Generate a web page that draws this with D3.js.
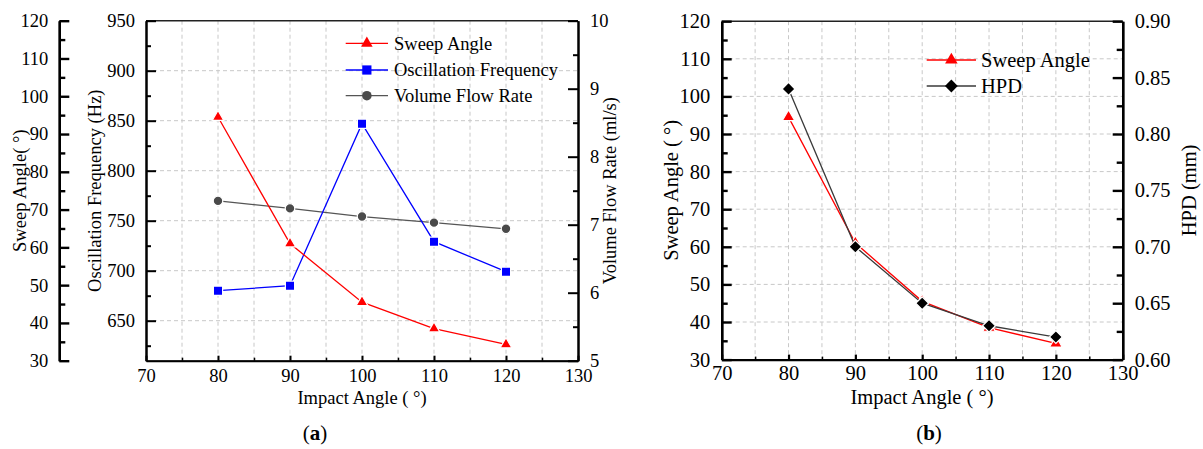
<!DOCTYPE html>
<html>
<head>
<meta charset="utf-8">
<script src="https://cdn.jsdelivr.net/npm/d3@7"></script>
<style>
  body { margin: 0; background: #fff; }
  svg { display: block; font-family: "Liberation Serif", "Times New Roman", serif; }
  .axis path, .axis line { stroke: #000; }
  .axis text { fill: #000; }
</style>
</head>
<body>
<svg id="chart" width="1203" height="449"></svg>
<script>
// ---------- data ----------
const impactAngles = [80, 90, 100, 110, 120];
const sweepAngle = [94.5, 61, 45.5, 38.5, 34.3];            // degrees
const oscFrequency = [680, 685, 847, 729, 699];              // Hz
const volumeFlowRate = [7.35, 7.24, 7.12, 7.03, 6.94];       // ml/s
const hpd = [0.84, 0.70, 0.65, 0.63, 0.62];                  // mm

const xTicks = [70, 80, 90, 100, 110, 120, 130];
const xMinorTicks = [75, 85, 95, 105, 115, 125];
const sweepTicks = [30, 40, 50, 60, 70, 80, 90, 100, 110, 120];
const sweepMinor = [35, 45, 55, 65, 75, 85, 95, 105, 115];
const freqTicks = [650, 700, 750, 800, 850, 900, 950];
const freqMinor = [625, 675, 725, 775, 825, 875, 925];
const flowTicks = [5, 6, 7, 8, 9, 10];
const flowMinor = [5.5, 6.5, 7.5, 8.5, 9.5];
const hpdTicks = [0.60, 0.65, 0.70, 0.75, 0.80, 0.85, 0.90];
const hpdMinor = [0.625, 0.675, 0.725, 0.775, 0.825, 0.875];

const svg = d3.select("#chart");
const RED = "#ff0000", BLUE = "#0000ff", GRAY = "#4a4a4a";

function drawAxis(g, axis, width, fs) {
  g.call(axis);
  g.attr("font-family", null).attr("font-size", fs || 10);
  g.select(".domain").attr("stroke-width", width);
  g.selectAll(".tick line").attr("stroke-width", width);
  return g;
}

function grid(g, x, y, xVals, yVals, x0, x1, y0, y1) {
  g.selectAll(".gv").data(xVals).join("line")
    .attr("x1", d => x(d)).attr("x2", d => x(d)).attr("y1", y0).attr("y2", y1)
    .attr("stroke", "#c8c8c8").attr("stroke-width", 1).attr("stroke-dasharray", "4,3");
  g.selectAll(".gh").data(yVals).join("line")
    .attr("y1", d => y(d)).attr("y2", d => y(d)).attr("x1", x0).attr("x2", x1)
    .attr("stroke", "#c8c8c8").attr("stroke-width", 1).attr("stroke-dasharray", "4,3");
}

function series(g, x, y, vals, color, lineColor, symbol, size, rotate) {
  const pts = impactAngles.map((a, i) => [x(a), y(vals[i])]);
  g.append("path").attr("d", d3.line()(pts)).attr("fill", "none")
    .attr("stroke", lineColor).attr("stroke-width", 1.3);
  g.selectAll(null).data(pts).join("path")
    .attr("d", d3.symbol().type(symbol).size(size)())
    .attr("transform", d => `translate(${d[0]},${d[1]}) rotate(${rotate || 0})`)
    .attr("fill", color).attr("stroke", "#fff").attr("stroke-width", 1.2);
}

function legendRow(g, x0, x1, y, textX, label, color, lineColor, symbol, size, rotate, fs) {
  g.append("line").attr("x1", x0).attr("x2", x1).attr("y1", y).attr("y2", y)
    .attr("stroke", lineColor).attr("stroke-width", 1.3);
  g.append("path").attr("d", d3.symbol().type(symbol).size(size)())
    .attr("transform", `translate(${(x0 + x1) / 2},${y}) rotate(${rotate || 0})`)
    .attr("fill", color);
  g.append("text").attr("x", textX).attr("y", y).attr("dy", "0.35em")
    .attr("font-size", fs).text(label);
}

// ================= Panel (a) =================
{
  const L = 146, R = 578, T = 20.7, B = 360.7, FS = 18.5;
  const x = d3.scaleLinear().domain([70, 130]).range([L, R]);
  const yF = d3.scaleLinear().domain([610, 950]).range([B, T]);
  const yS = d3.scaleLinear().domain([30, 120]).range([B, T]);
  const yV = d3.scaleLinear().domain([5, 10]).range([B, T]);
  const g = svg.append("g");

  grid(g, x, yF, [75, 80, 85, 90, 95, 100, 105, 110, 115, 120, 125], [650, 700, 750, 800, 850, 900], L, R, T, B);

  g.append("line").attr("x1", L).attr("x2", R).attr("y1", T).attr("y2", T)
    .attr("stroke", "#222").attr("stroke-width", 1.6);

  const gx = g.append("g").attr("class", "axis").attr("transform", `translate(0,${B})`);
  drawAxis(gx, d3.axisBottom(x).tickValues(xTicks).tickSize(-5).tickSizeOuter(0).tickPadding(8).tickFormat(d3.format("d")), 2, FS);
  const gxm = g.append("g").attr("class", "axis").attr("transform", `translate(0,${B})`);
  drawAxis(gxm, d3.axisBottom(x).tickValues(xMinorTicks).tickSize(-3).tickSizeOuter(0).tickFormat(""), 1.5);

  const gf = g.append("g").attr("class", "axis").attr("transform", `translate(${L},0)`);
  drawAxis(gf, d3.axisLeft(yF).tickValues(freqTicks).tickSize(-10).tickSizeOuter(0).tickPadding(11).tickFormat(d3.format("d")), 2, FS);
  const gfm = g.append("g").attr("class", "axis").attr("transform", `translate(${L},0)`);
  drawAxis(gfm, d3.axisLeft(yF).tickValues(freqMinor).tickSize(-5).tickSizeOuter(0).tickFormat(""), 2);

  const SX = 59.3;
  const gs = g.append("g").attr("class", "axis").attr("transform", `translate(${SX},0)`);
  drawAxis(gs, d3.axisLeft(yS).tickValues(sweepTicks).tickSize(-10).tickSizeOuter(0).tickPadding(11).tickFormat(d3.format("d")), 2.4, FS);
  const gsm = g.append("g").attr("class", "axis").attr("transform", `translate(${SX},0)`);
  drawAxis(gsm, d3.axisLeft(yS).tickValues(sweepMinor).tickSize(-6).tickSizeOuter(0).tickFormat(""), 2.4);

  const gv = g.append("g").attr("class", "axis").attr("transform", `translate(${R},0)`);
  drawAxis(gv, d3.axisRight(yV).tickValues(flowTicks).tickSize(-10).tickSizeOuter(0).tickPadding(12).tickFormat(d3.format("d")), 2, FS);
  const gvm = g.append("g").attr("class", "axis").attr("transform", `translate(${R},0)`);
  drawAxis(gvm, d3.axisRight(yV).tickValues(flowMinor).tickSize(-5).tickSizeOuter(0).tickFormat(""), 2);

  series(g, x, yV, volumeFlowRate, GRAY, "#555", d3.symbolCircle, 72, 0);
  series(g, x, yF, oscFrequency, BLUE, BLUE, d3.symbolSquare, 85, 0);
  series(g, x, yS, sweepAngle, RED, RED, d3.symbolTriangle, 58, 0);

  g.append("text").attr("transform", `translate(20,${(T + B) / 2}) rotate(-90)`)
    .attr("text-anchor", "middle").attr("dy", "0.35em").attr("font-size", FS).text("Sweep Angle( °)");
  g.append("text").attr("transform", `translate(95,${(T + B) / 2}) rotate(-90)`)
    .attr("text-anchor", "middle").attr("dy", "0.35em").attr("font-size", FS).text("Oscillation Frequency (Hz)");
  g.append("text").attr("transform", `translate(610,${(T + B) / 2}) rotate(-90)`)
    .attr("text-anchor", "middle").attr("dy", "0.35em").attr("font-size", FS).text("Volume Flow Rate (ml/s)");
  g.append("text").attr("x", 362).attr("y", 404).attr("text-anchor", "middle")
    .attr("font-size", FS).text("Impact Angle ( °)");
  const pa = g.append("text").attr("x", 315).attr("y", 440).attr("text-anchor", "middle").attr("font-size", 21);
  pa.append("tspan").text("(");
  pa.append("tspan").attr("font-weight", "bold").text("a");
  pa.append("tspan").text(")");

  legendRow(g, 345.7, 388, 43.3, 394, "Sweep Angle", RED, RED, d3.symbolTriangle, 58, 0, FS);
  legendRow(g, 345.7, 388, 70, 394, "Oscillation Frequency", BLUE, BLUE, d3.symbolSquare, 85, 0, FS);
  legendRow(g, 345.7, 388, 95.7, 394, "Volume Flow Rate", GRAY, "#555", d3.symbolCircle, 72, 0, FS);
}

// ================= Panel (b) =================
{
  const L = 721.7, R = 1122.7, T = 21.2, B = 359.6, FS = 20.5;
  const x = d3.scaleLinear().domain([70, 130]).range([L, R]);
  const yS = d3.scaleLinear().domain([30, 120]).range([B, T]);
  const yH = d3.scaleLinear().domain([0.60, 0.90]).range([B, T]);
  const g = svg.append("g");

  grid(g, x, yS, [75, 80, 85, 90, 95, 100, 105, 110, 115, 120, 125], [40, 50, 60, 70, 80, 90, 100, 110], L, R, T, B);

  g.append("line").attr("x1", L).attr("x2", R).attr("y1", T).attr("y2", T)
    .attr("stroke", "#222").attr("stroke-width", 1.6);

  const gx = g.append("g").attr("class", "axis").attr("transform", `translate(0,${B})`);
  drawAxis(gx, d3.axisBottom(x).tickValues(xTicks).tickSize(-5).tickSizeOuter(0).tickPadding(6).tickFormat(d3.format("d")), 2.2, FS);
  const gxm = g.append("g").attr("class", "axis").attr("transform", `translate(0,${B})`);
  drawAxis(gxm, d3.axisBottom(x).tickValues(xMinorTicks).tickSize(-3).tickSizeOuter(0).tickFormat(""), 1.5);

  const gs = g.append("g").attr("class", "axis").attr("transform", `translate(${L},0)`);
  drawAxis(gs, d3.axisLeft(yS).tickValues(sweepTicks).tickSize(-10).tickSizeOuter(0).tickPadding(11.5).tickFormat(d3.format("d")), 2.4, FS);
  const gsm = g.append("g").attr("class", "axis").attr("transform", `translate(${L},0)`);
  drawAxis(gsm, d3.axisLeft(yS).tickValues(sweepMinor).tickSize(-6).tickSizeOuter(0).tickFormat(""), 2.4);

  const gh = g.append("g").attr("class", "axis").attr("transform", `translate(${R},0)`);
  drawAxis(gh, d3.axisRight(yH).tickValues(hpdTicks).tickSize(-10).tickSizeOuter(0).tickPadding(12).tickFormat(d3.format(".2f")), 2.4, FS);
  const ghm = g.append("g").attr("class", "axis").attr("transform", `translate(${R},0)`);
  drawAxis(ghm, d3.axisRight(yH).tickValues(hpdMinor).tickSize(-6).tickSizeOuter(0).tickFormat(""), 2.4);

  series(g, x, yS, sweepAngle, RED, RED, d3.symbolTriangle, 68, 0);
  series(g, x, yH, hpd, "#000", "#3a3a3a", d3.symbolSquare, 82, 45);

  g.append("text").attr("transform", `translate(671,${(T + B) / 2}) rotate(-90)`)
    .attr("text-anchor", "middle").attr("dy", "0.35em").attr("font-size", FS).text("Sweep Angle ( °)");
  g.append("text").attr("transform", `translate(1189,${(T + B) / 2}) rotate(-90)`)
    .attr("text-anchor", "middle").attr("dy", "0.35em").attr("font-size", FS).text("HPD (mm)");
  g.append("text").attr("x", 922).attr("y", 404).attr("text-anchor", "middle")
    .attr("font-size", FS).text("Impact Angle ( °)");
  const pb = g.append("text").attr("x", 929).attr("y", 440).attr("text-anchor", "middle").attr("font-size", 21);
  pb.append("tspan").text("(");
  pb.append("tspan").attr("font-weight", "bold").text("b");
  pb.append("tspan").text(")");

  legendRow(g, 926.7, 976, 60, 981, "Sweep Angle", RED, RED, d3.symbolTriangle, 68, 0, FS);
  legendRow(g, 926.7, 976, 86, 981, "HPD", "#000", "#3a3a3a", d3.symbolSquare, 82, 45, FS);
}
</script>
</body>
</html>
